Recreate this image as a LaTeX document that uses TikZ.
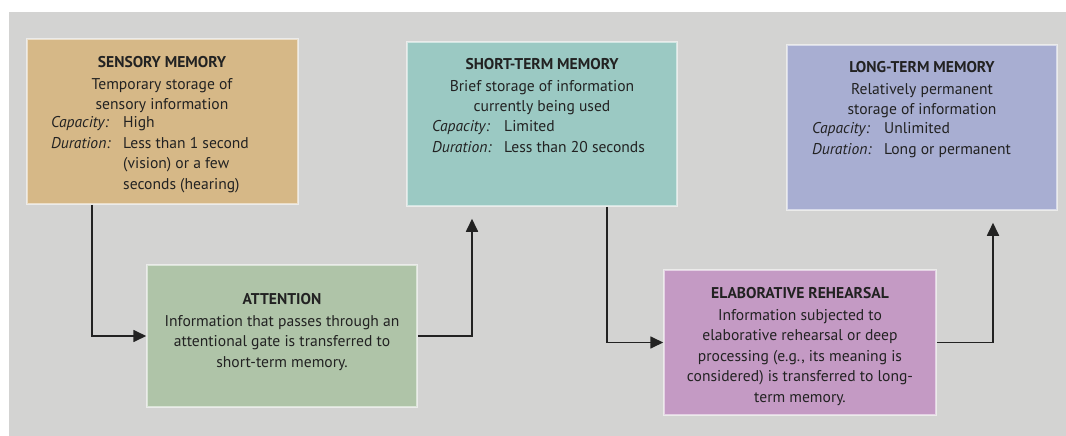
\documentclass[tikz,border=0pt]{standalone}
\usepackage{fontspec}
\setmainfont{PT Sans}
\usetikzlibrary{arrows.meta}
\definecolor{bggray}{HTML}{D3D3D2}
\definecolor{senscol}{HTML}{D6B887}
\definecolor{stmcol}{HTML}{9BC9C3}
\definecolor{ltmcol}{HTML}{A8AED2}
\definecolor{attcol}{HTML}{AFC4A8}
\definecolor{elabcol}{HTML}{C49AC4}
\definecolor{inkcol}{HTML}{222222}
\tikzset{
  membox/.style={rectangle, draw=white, draw opacity=0.55, line width=1.5pt, inner sep=0pt},
  head/.style={anchor=north, inner sep=0pt, align=center, text=inkcol,
    font=\fontsize{15.6}{20.5}\selectfont},
  detail/.style={anchor=north west, inner sep=0pt, align=left, text=inkcol,
    font=\fontsize{15.6}{20.5}\selectfont},
  arr/.style={draw=inkcol, line width=1.7pt, -{Triangle[length=13pt,width=12pt]}},
}
\newcommand{\lbl}[1]{\makebox[72pt][l]{\itshape #1}}
\newcommand{\cont}{\hspace*{72pt}}
\begin{document}
\begin{tikzpicture}[x=1pt,y=-1pt]
\useasboundingbox (0,0) rectangle (1066,436);
\fill[white] (0,0) rectangle (1066,436);
\fill[bggray] (9,12) rectangle (1066,436);

% boxes
\node[membox, fill=senscol, minimum width=271pt, minimum height=165pt] (sens) at (162.5,121.5) {};
\node[membox, fill=stmcol, minimum width=270pt, minimum height=164pt] (stm) at (542,124) {};
\node[membox, fill=ltmcol, minimum width=270pt, minimum height=165pt] (ltm) at (922,127.5) {};
\node[membox, fill=attcol, minimum width=270pt, minimum height=142pt] (att) at (282,336) {};
\node[membox, fill=elabcol, minimum width=272pt, minimum height=145pt] (elab) at (800,342.5) {};

% texts
\node[head] (sensH) at (162,56) {\bfseries SENSORY MEMORY\\[1.5pt]Temporary storage of\\sensory information};
\node[detail] (sensD) at (51,116.5) {\lbl{Capacity:}High\\\lbl{Duration:}Less than 1 second\\\cont(vision) or a few\\\cont seconds (hearing)};

\node[head] (stmH) at (542,58) {\bfseries SHORT-TERM MEMORY\\[1.5pt]Brief storage of information\\currently being used};
\node[detail] (stmD) at (432,120.5) {\lbl{Capacity:}Limited\\\lbl{Duration:}Less than 20 seconds};

\node[head] (ltmH) at (922,61) {\bfseries LONG-TERM MEMORY\\[1.5pt]Relatively permanent\\storage of information};
\node[detail] (ltmD) at (812,122.5) {\lbl{Capacity:}Unlimited\\\lbl{Duration:}Long or permanent};

\node[head] (attH) at (282,293) {\bfseries ATTENTION\\[1.5pt]Information that passes through an\\attentional gate is transferred to\\short-term memory.};

\node[head] (elabH) at (800,287) {\bfseries ELABORATIVE REHEARSAL\\[1.5pt]Information subjected to\\elaborative rehearsal or deep\\processing (e.g., its meaning is\\considered) is transferred to long-\\term memory.};

% connectors
\draw[arr] ([xshift=-70.5pt]sens.south) |- (att.west);
\draw[arr, shorten >=12pt] (att.east) -| ([xshift=-70pt]stm.south);
\draw[arr] ([xshift=65pt]stm.south) |- (elab.west);
\draw[arr, shorten >=12pt] (elab.east) -| ([xshift=71pt]ltm.south);
\end{tikzpicture}
\end{document}
